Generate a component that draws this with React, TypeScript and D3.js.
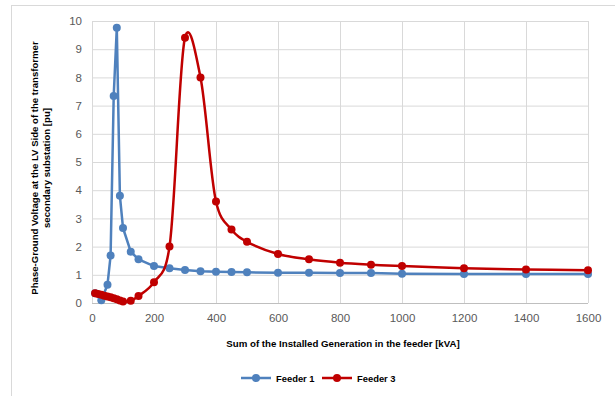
import React, { useEffect, useRef } from 'react';
import * as d3 from 'd3';

// Feeder 1 (blue)
const feeder1X = [10, 30, 50, 60, 70, 80, 90, 100, 125, 150, 200, 250, 300, 350, 400, 450, 500, 600, 700, 800, 900, 1000, 1200, 1400, 1600];
const feeder1Y = [0.35, 0.1, 0.65, 1.68, 7.34, 9.76, 3.8, 2.66, 1.82, 1.55, 1.31, 1.23, 1.17, 1.13, 1.11, 1.1, 1.09, 1.07, 1.07, 1.06, 1.06, 1.04, 1.03, 1.03, 1.03];

// Feeder 3 (red)
const feeder3X = [10, 20, 30, 40, 50, 60, 70, 80, 90, 100, 125, 150, 200, 250, 300, 350, 400, 450, 500, 600, 700, 800, 900, 1000, 1200, 1400, 1600];
const feeder3Y = [0.35, 0.32, 0.29, 0.26, 0.23, 0.2, 0.17, 0.13, 0.09, 0.05, 0.08, 0.25, 0.74, 2.0, 9.41, 8.0, 3.6, 2.61, 2.17, 1.74, 1.55, 1.43, 1.36, 1.31, 1.23, 1.19, 1.16];

const xTicks = [0, 200, 400, 600, 800, 1000, 1200, 1400, 1600];
const yTicks = [0, 1, 2, 3, 4, 5, 6, 7, 8, 9, 10];

const seriesNames = ['Feeder 1', 'Feeder 3'];
const seriesColors = ['#4f81bd', '#c00000'];

const App = () => {
    const svgRef = useRef<SVGSVGElement>(null);

    useEffect(() => {
        const width = 615;
        const height = 396;
        const margin = { top: 21, right: 27, bottom: 93, left: 92 };
        const innerW = width - margin.left - margin.right;
        const innerH = height - margin.top - margin.bottom;

        const root = d3.select(svgRef.current);
        root.selectAll('*').remove();
        root.attr('width', width).attr('height', height);

        root.append('rect')
            .attr('width', width).attr('height', height).attr('fill', '#ffffff');

        // chart frame
        root.append('rect')
            .attr('x', 11.5).attr('y', 5.5)
            .attr('width', 620).attr('height', 400)
            .attr('fill', 'none').attr('stroke', '#d9d9d9');

        const svg = root.append('g')
            .attr('transform', `translate(${margin.left},${margin.top})`);

        const x = d3.scaleLinear().domain([0, 1600]).range([0, innerW]);
        const y = d3.scaleLinear().domain([0, 10]).range([innerH, 0]);

        // gridlines
        svg.append('g')
            .call(d3.axisLeft(y).tickValues(yTicks).tickSize(-innerW).tickFormat(() => ''))
            .call(g => g.select('.domain').remove())
            .call(g => g.selectAll('line').attr('stroke', '#d9d9d9'));
        svg.append('g')
            .attr('transform', `translate(0,${innerH})`)
            .call(d3.axisBottom(x).tickValues(xTicks).tickSize(-innerH).tickFormat(() => ''))
            .call(g => g.select('.domain').remove())
            .call(g => g.selectAll('line').attr('stroke', '#d9d9d9'));

        // right border and bottom axis line
        svg.append('line')
            .attr('x1', innerW + 0.5).attr('x2', innerW + 0.5).attr('y1', 0).attr('y2', innerH)
            .attr('stroke', '#d9d9d9');
        svg.append('line')
            .attr('x1', 0).attr('x2', innerW).attr('y1', innerH + 0.5).attr('y2', innerH + 0.5)
            .attr('stroke', '#bfbfbf');

        // tick labels
        svg.append('g')
            .attr('transform', `translate(0,${innerH})`)
            .call(d3.axisBottom(x).tickValues(xTicks).tickSize(0).tickPadding(11).tickFormat(d3.format('d')))
            .call(g => g.select('.domain').remove())
            .call(g => g.selectAll('text')
                .attr('fill', '#595959')
                .attr('font-family', 'Liberation Sans, Arial, sans-serif')
                .attr('font-size', 11.5));
        svg.append('g')
            .call(d3.axisLeft(y).tickValues(yTicks).tickSize(0).tickPadding(10).tickFormat(d3.format('d')))
            .call(g => g.select('.domain').remove())
            .call(g => g.selectAll('text')
                .attr('fill', '#595959')
                .attr('font-family', 'Liberation Sans, Arial, sans-serif')
                .attr('font-size', 11.5));

        const data1 = feeder1X.map((d, i) => [d, feeder1Y[i]] as [number, number]);
        const data3 = feeder3X.map((d, i) => [d, feeder3Y[i]] as [number, number]);

        const lineLinear = d3.line<[number, number]>()
            .x(d => x(d[0])).y(d => y(d[1]));
        const lineSmooth = d3.line<[number, number]>()
            .x(d => x(d[0])).y(d => y(d[1]))
            .curve(d3.curveCatmullRom.alpha(0.12));

        const drawSeries = (data: [number, number][], color: string, gen: d3.Line<[number, number]>) => {
            svg.append('path')
                .datum(data)
                .attr('d', gen)
                .attr('fill', 'none')
                .attr('stroke', color)
                .attr('stroke-width', 2.5)
                .attr('stroke-linejoin', 'round');
            svg.append('g')
                .selectAll('circle')
                .data(data)
                .enter()
                .append('circle')
                .attr('cx', d => x(d[0]))
                .attr('cy', d => y(d[1]))
                .attr('r', 4)
                .attr('fill', color);
        };

        drawSeries(data1, seriesColors[0], lineLinear);
        drawSeries(data3, seriesColors[1], lineSmooth);

        // axis titles
        root.append('text')
            .attr('x', 343).attr('y', 347)
            .attr('text-anchor', 'middle')
            .attr('font-family', 'Liberation Sans, Arial, sans-serif')
            .attr('font-weight', 'bold')
            .attr('font-size', 9.7)
            .attr('fill', '#000')
            .text('Sum of the Installed Generation in the feeder [kVA]');

        const yTitle = root.append('text')
            .attr('transform', 'translate(41,168) rotate(-90)')
            .attr('text-anchor', 'middle')
            .attr('font-family', 'Liberation Sans, Arial, sans-serif')
            .attr('font-weight', 'bold')
            .attr('font-size', 9.6)
            .attr('fill', '#000');
        yTitle.append('tspan').attr('x', 0).attr('dy', -3)
            .text('Phase-Ground Voltage at the LV Side of the transformer');
        yTitle.append('tspan').attr('x', 0).attr('dy', 12)
            .text('secondary substation [pu]');

        // legend
        const legendX = [241, 322];
        seriesNames.forEach((name, i) => {
            const g = root.append('g').attr('transform', `translate(${legendX[i]},378)`);
            g.append('line').attr('x1', 0).attr('x2', 30).attr('y1', 0).attr('y2', 0)
                .attr('stroke', seriesColors[i]).attr('stroke-width', 2.5);
            g.append('circle').attr('cx', 15).attr('cy', 0).attr('r', 4).attr('fill', seriesColors[i]);
            g.append('text').attr('x', 35).attr('y', 3.5)
                .attr('font-family', 'Liberation Sans, Arial, sans-serif')
                .attr('font-weight', 'bold')
                .attr('font-size', 9.4)
                .attr('fill', '#000')
                .text(name);
        });
    }, []);

    return (
        <div style={{ position: 'absolute', left: 0, top: 0 }}>
            <svg ref={svgRef} style={{ display: 'block' }}></svg>
        </div>
    );
};

export default App;
